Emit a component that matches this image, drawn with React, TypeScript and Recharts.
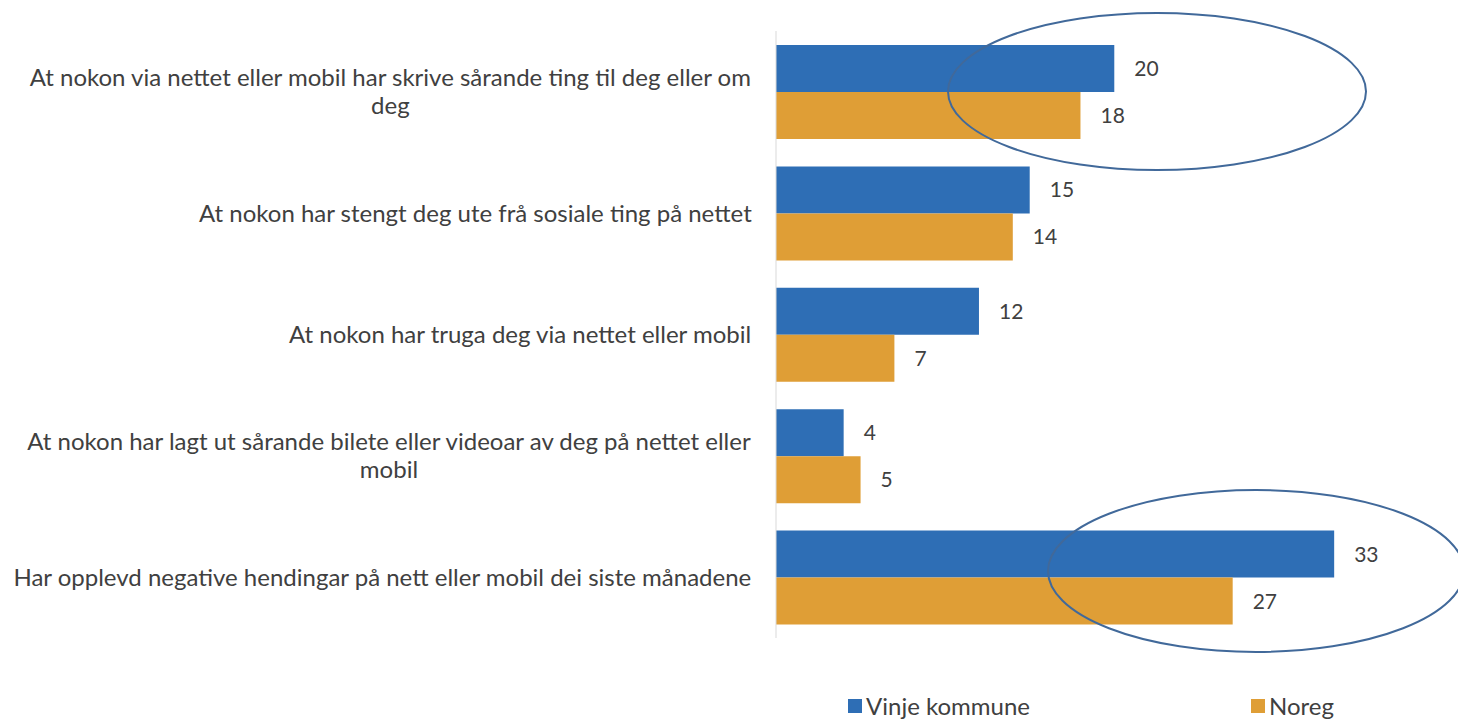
import { BarChart, Bar, XAxis, YAxis, LabelList, Legend } from 'recharts';

const CATEGORIES = [
  'At nokon via nettet eller mobil har skrive sårande ting til deg eller om deg',
  'At nokon har stengt deg ute frå sosiale ting på nettet',
  'At nokon har truga deg via nettet eller mobil',
  'At nokon har lagt ut sårande bilete eller videoar av deg på nettet eller mobil',
  'Har opplevd negative hendingar på nett eller mobil dei siste månadene',
];
const VINJE = [20, 15, 12, 4, 33];
const NOREG = [18, 14, 7, 5, 27];
const SERIES = ['Vinje kommune', 'Noreg'];

const BLUE = '#2e6eb5';
const ORANGE = '#df9e36';
const TEXT = '#404040';
const FONT = 'Lato, "Liberation Sans", sans-serif';
const LABEL_SIZE = 24;
const LABEL_RIGHT = 752;
const WRAP_AT = 745;

const data = CATEGORIES.map((name, i) => ({ name, vinje: VINJE[i], noreg: NOREG[i] }));

let ctx: CanvasRenderingContext2D | null = null;
function measure(s: string) {
  if (!ctx) ctx = document.createElement('canvas').getContext('2d');
  if (!ctx) return s.length * LABEL_SIZE * 0.5;
  ctx.font = `${LABEL_SIZE}px ${FONT}`;
  return ctx.measureText(s).width;
}

function wrap(text: string) {
  const words = text.split(' ');
  const lines: string[] = [];
  let cur = '';
  for (const w of words) {
    const next = cur ? cur + ' ' + w : w;
    if (cur && measure(next) > WRAP_AT) {
      lines.push(cur);
      cur = w;
    } else cur = next;
  }
  if (cur) lines.push(cur);
  return lines;
}

function CategoryTick({ y, payload }: any) {
  const lines = wrap(payload.value);
  const widest = Math.max(...lines.map(measure));
  const cx = LABEL_RIGHT - widest / 2;
  const top = y - ((lines.length - 1) * 28) / 2;
  return (
    <text textAnchor="middle" fill={TEXT} fontSize={LABEL_SIZE} fontFamily={FONT}>
      {lines.map((l, i) => (
        <tspan key={i} x={cx} y={top + i * 28} dy="0.35em">
          {l}
        </tspan>
      ))}
    </text>
  );
}

function LegendContent() {
  const items = [
    { name: SERIES[0], color: BLUE, left: 848 },
    { name: SERIES[1], color: ORANGE, left: 1251 },
  ];
  return (
    <div style={{ position: 'relative', height: 35, fontFamily: FONT }}>
      {items.map(it => (
        <div key={it.name} style={{ position: 'absolute', left: it.left, top: 0, display: 'flex', alignItems: 'center', height: 35 }}>
          <span style={{ width: 14, height: 14, background: it.color, marginRight: 4, display: 'inline-block' }} />
          <span style={{ fontSize: 24, color: TEXT }}>{it.name}</span>
        </div>
      ))}
    </div>
  );
}

export default function App() {
  return (
    <div style={{ position: 'absolute', left: 0, top: 0, width: 1458, height: 725, background: '#fff', overflow: 'hidden' }}>
      <BarChart
        width={1458}
        height={725}
        data={data}
        layout="vertical"
        margin={{ top: 31, right: 90, bottom: 52, left: 0 }}
        barGap={0}
        barSize={47}
      >
        <XAxis type="number" domain={[0, 35]} hide />
        <YAxis
          type="category"
          dataKey="name"
          width={776}
          axisLine={{ stroke: '#d9d9d9' }}
          tickLine={false}
          tick={<CategoryTick />}
          interval={0}
        />
        <Legend
          verticalAlign="bottom"
          content={<LegendContent />}
          wrapperStyle={{ top: 688, bottom: 'auto', left: 0, width: 1458 }}
        />
        <Bar dataKey="vinje" name={SERIES[0]} fill={BLUE} isAnimationActive={false}>
          <LabelList dataKey="vinje" position="right" offset={20} fill={TEXT} fontSize={21} fontFamily={FONT} />
        </Bar>
        <Bar dataKey="noreg" name={SERIES[1]} fill={ORANGE} isAnimationActive={false}>
          <LabelList dataKey="noreg" position="right" offset={20} fill={TEXT} fontSize={21} fontFamily={FONT} />
        </Bar>
      </BarChart>
      {/* hand-drawn highlight rings from the original */}
      <svg width={1458} height={725} style={{ position: 'absolute', left: 0, top: 0, pointerEvents: 'none' }}>
        <ellipse cx={1157} cy={91.5} rx={209} ry={78.5} fill="none" stroke="#41699a" strokeWidth={2} />
        <ellipse cx={1256} cy={571} rx={208} ry={81} fill="none" stroke="#41699a" strokeWidth={2} />
      </svg>
    </div>
  );
}
